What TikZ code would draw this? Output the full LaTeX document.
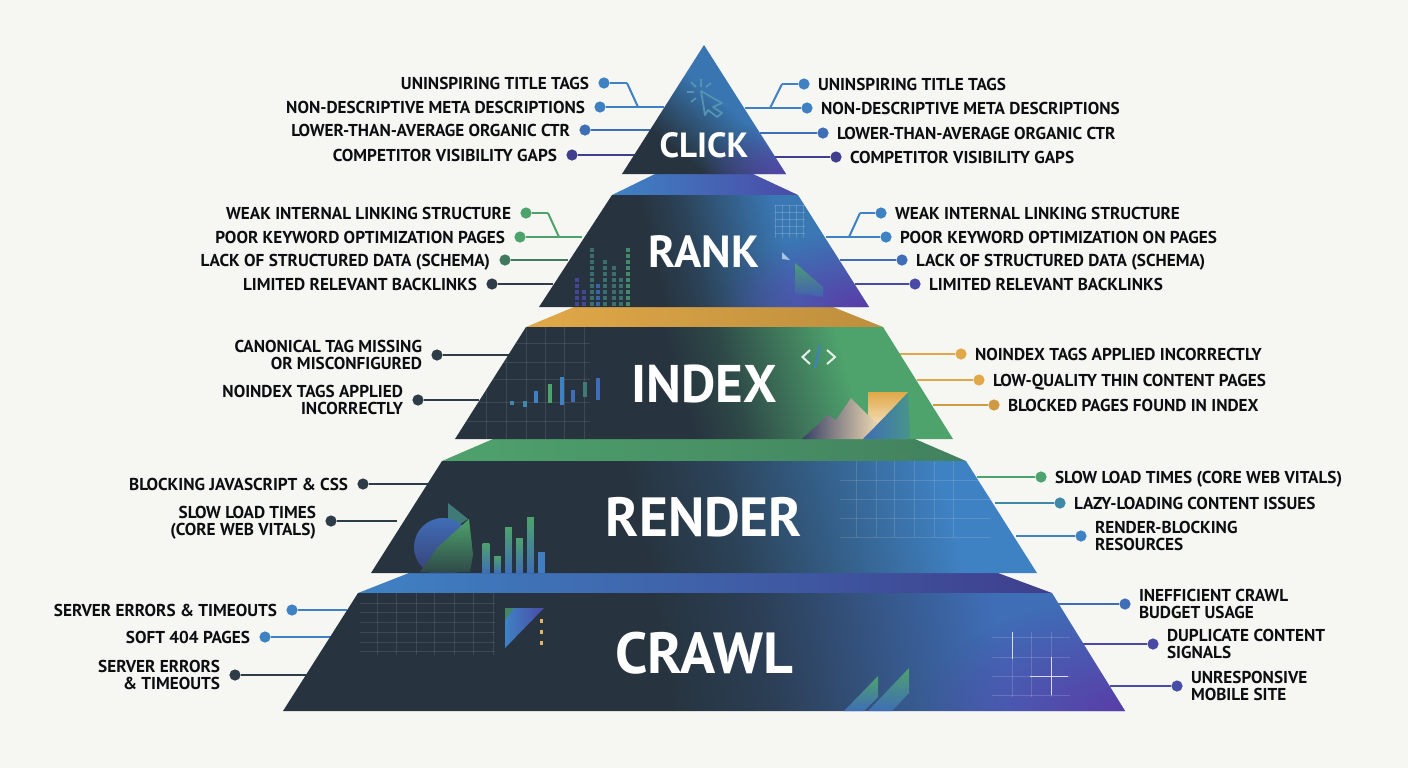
\documentclass[tikz,border=0pt]{standalone}
\usepackage{fontspec}
\setmainfont{PT Sans}
\usetikzlibrary{positioning,calc,fadings}
\definecolor{paperc}{HTML}{F6F6F3}
\definecolor{darkc}{HTML}{27343F}
\definecolor{inkc}{HTML}{0C0E11}
\definecolor{bluec}{HTML}{3F82C4}
\definecolor{midbc}{HTML}{3F6DB6}
\definecolor{indc}{HTML}{4A4AA6}
\definecolor{pplc}{HTML}{5A3DA8}
\definecolor{greenc}{HTML}{4EA26C}
\definecolor{tealc}{HTML}{3F7A78}
\definecolor{teabc}{HTML}{3F88A8}
\definecolor{goldc}{HTML}{E0A848}
\definecolor{slatec}{HTML}{2E3C48}
\pgfdeclarehorizontalshading{clickfront}{100bp}{color(0bp)=(darkc); color(33bp)=(darkc); color(56bp)=(bluec!90!black); color(100bp)=(bluec!90!black)}
\pgfdeclarehorizontalshading{rankfront}{100bp}{color(0bp)=(darkc); color(41bp)=(darkc); color(48bp)=(bluec!18!darkc); color(64bp)=(bluec!92!black); color(100bp)=(bluec!92!black)}
\pgfdeclarehorizontalshading{indexfront}{100bp}{color(0bp)=(darkc); color(47bp)=(darkc); color(53bp)=(greenc!18!darkc); color(67bp)=(greenc); color(100bp)=(greenc)}
\pgfdeclarehorizontalshading{renderfront}{100bp}{color(0bp)=(darkc); color(44bp)=(darkc); color(52bp)=(bluec!18!darkc); color(72bp)=(bluec); color(100bp)=(bluec)}
\pgfdeclarehorizontalshading{crawlfront}{100bp}{color(0bp)=(darkc); color(47bp)=(darkc); color(54bp)=(midbc!18!darkc); color(70bp)=(midbc); color(100bp)=(midbc)}
\tikzfading[name=glow,inner color=transparent!0,outer color=transparent!100]
\tikzset{
    dot/.style = {circle,inner sep=0pt,minimum size=5.6pt},
    lead/.style = {line width=1pt},
    lab/.style = {font=\bfseries\fontsize{8.6}{8.4}\selectfont,text=inkc,inner sep=0pt,text depth=0pt},
    labl/.style = {lab,align=right},
    labr/.style = {lab,align=left},
    tier/.style = {text=white,inner sep=0pt,text depth=0pt},
    gridline/.style = {line width=.4pt}
}
\begin{document}
\begin{tikzpicture}[x=.5pt,y=-.5pt]
    \useasboundingbox[fill=paperc] (0,0) rectangle (1408,768);
    % leaders, left side
    \foreach \nm/\dx/\dy/\ex/\col/\txt in {
        cl1/604/83/627/bluec/{UNINSPIRING TITLE TAGS},
        cl2/600/107/664/bluec!90!midbc/{NON-DESCRIPTIVE META DESCRIPTIONS},
        cl3/585/130/650/midbc/{LOWER-THAN-AVERAGE ORGANIC CTR},
        cl4/572/155/638/indc!85!black/{COMPETITOR VISIBILITY GAPS},
        rk1/526/213/548/greenc/{WEAK INTERNAL LINKING STRUCTURE},
        rk2/520/237/582/greenc/{POOR KEYWORD OPTIMIZATION PAGES},
        rk3/505/260/568/greenc!60!slatec/{LACK OF STRUCTURED DATA (SCHEMA)},
        rk4/492/284/553/slatec/{LIMITED RELEVANT BACKLINKS},
        ix1/437/355/509/slatec/{CANONICAL TAG MISSING\\OR MISCONFIGURED},
        ix2/418/400/479/slatec/{NOINDEX TAGS APPLIED\\INCORRECTLY},
        rd1/363/484/428/slatec/{BLOCKING JAVASCRIPT \& CSS},
        rd2/331/521/397/slatec/{SLOW LOAD TIMES\\(CORE WEB VITALS)},
        cw1/292/610/347/bluec/{SERVER ERRORS \& TIMEOUTS},
        cw2/265/637/332/bluec/{SOFT 404 PAGES},
        cw3/235/675/306/slatec/{SERVER ERRORS\\\& TIMEOUTS}}{
        \node[dot,fill=\col] (\nm) at (\dx,\dy) {};
        \node[labl,left=4.3pt of \nm] (\nm t) {\txt};
        \coordinate (\nm e) at (\ex,\dy);
        \draw[lead,draw=\col] (\nm) -- (\nm e);
    }
    % leaders, right side
    \foreach \nm/\dx/\dy/\ex/\col/\txt in {
        cr1/804/84/782/bluec/{UNINSPIRING TITLE TAGS},
        cr2/807/108/745/bluec!90!midbc/{NON-DESCRIPTIVE META DESCRIPTIONS},
        cr3/823/133/760/midbc/{LOWER-THAN-AVERAGE ORGANIC CTR},
        cr4/836/157/775/indc!85!black/{COMPETITOR VISIBILITY GAPS},
        rr1/881/213/860/bluec/{WEAK INTERNAL LINKING STRUCTURE},
        rr2/886/237/826/bluec/{POOR KEYWORD OPTIMIZATION ON PAGES},
        rr3/902/260/840/midbc/{LACK OF STRUCTURED DATA (SCHEMA)},
        rr4/915/284/855/indc/{LIMITED RELEVANT BACKLINKS},
        xr1/961/354/899/goldc/{NOINDEX TAGS APPLIED INCORRECTLY},
        xr2/979/380/917/goldc/{LOW-QUALITY THIN CONTENT PAGES},
        xr3/994/405/933/goldc!92!black/{BLOCKED PAGES FOUND IN INDEX},
        dr1/1041/477/977/greenc/{SLOW LOAD TIMES (CORE WEB VITALS)},
        dr2/1060/503/995/teabc/{LAZY-LOADING CONTENT ISSUES},
        dr3/1081/536/1016/bluec/{RENDER-BLOCKING\\RESOURCES},
        wr1/1125/604/1057/midbc/{INEFFICIENT CRAWL\\BUDGET USAGE},
        wr2/1153/644/1083/indc/{DUPLICATE CONTENT\\SIGNALS},
        wr3/1177/686/1110/indc!90!midbc/{UNRESPONSIVE\\MOBILE SITE}}{
        \node[dot,fill=\col] (\nm) at (\dx,\dy) {};
        \node[labr,right=3.8pt of \nm] (\nm t) {\txt};
        \coordinate (\nm e) at (\ex,\dy);
        \draw[lead,draw=\col] (\nm) -- (\nm e);
    }
    % the four elbows
    \coordinate (cl1k) at (638,107);
    \coordinate (cr1k) at (770,108);
    \coordinate (rk1k) at (559,237);
    \coordinate (rr1k) at (849,237);
    \draw[lead,draw=bluec] (cl1e) -- (cl1k);
    \draw[lead,draw=bluec] (cr1e) -- (cr1k);
    \draw[lead,draw=greenc] (rk1e) -- (rk1k);
    \draw[lead,draw=bluec] (rr1e) -- (rr1k);

    % pyramid, top bands
    \shade[left color=bluec,right color=indc] (655,174) -- (753,174) -- (798,195) -- (612,195) -- cycle;
    \shade[left color=goldc,right color=goldc!85!black] (574,307) -- (833,307) -- (883,327) -- (526,327) -- cycle;
    \shade[left color=greenc,right color=greenc!70!darkc] (493,439) -- (915,439) -- (966,461) -- (442,461) -- cycle;
    \shade[shading=axis,left color=bluec,middle color=midbc,right color=indc!85!black] (409,573) -- (998,573) -- (1052,593) -- (358,593) -- cycle;

    % CLICK
    \shade[shading=clickfront,shading angle=50] (704,45) -- (786,174) -- (622,174) -- cycle;
    \begin{scope}
        \clip (704,45) -- (786,174) -- (622,174) -- cycle;
        \fill[pplc,opacity=.8,path fading=glow] (700,120) rectangle (870,228);
    \end{scope}
    \draw[teabc!90!white,line width=.9pt,line join=round] (701,91) -- (722,103) -- (713,107) -- (722,113) -- (717,117) -- (708,110) -- (705,115) -- cycle;
    \draw[teabc!90!white,line width=.9pt] (701,79) -- (701,87) (691,82) -- (696,87) (687,92) -- (694,92) (691,102) -- (696,98) (711,83) -- (706,87);

    % RANK
    \shade[shading=rankfront,shading angle=14] (612,195) -- (798,195) -- (869,307) -- (539,307) -- cycle;
    \begin{scope}
        \clip (612,195) -- (798,195) -- (869,307) -- (539,307) -- cycle;
        \fill[pplc,path fading=glow] (720,230) rectangle (1000,384);
        \foreach \x in {775,782,...,805} \draw[gridline,white,opacity=.18] (\x,205) -- (\x,238);
        \foreach \y in {205,212,...,238} \draw[gridline,white,opacity=.18] (775,\y) -- (805,\y);
        \foreach \x/\ty/\col in {577/277/indc,584/292/indc,592/250/tealc,598/282/midbc,605/260/tealc,614/268/tealc,621/277/tealc,628/250/greenc!80!tealc}
            \foreach \y in {304,298,...,\ty} \fill[\col,opacity=.85] (\x-1.6,\y-1.6) rectangle (\x+1.6,\y+1.6);
    \end{scope}
    \fill[bluec!45!white] (782,252) -- (790,260) -- (782,259) -- cycle;
    \shade[top color=greenc!80!teabc,bottom color=midbc!60!indc] (795,263) -- (823,287) -- (823,297) -- (795,293) -- cycle;

    % INDEX
    \shade[shading=indexfront,shading angle=16] (526,327) -- (883,327) -- (953,439) -- (455,439) -- cycle;
    \begin{scope}
        \clip (526,327) -- (883,327) -- (953,439) -- (455,439) -- cycle;
        \foreach \x in {486,506,526,545,564,584} \draw[gridline,white,opacity=.1] (\x,327) -- (\x,439);
        \foreach \y in {343,362,379,402,421} \draw[gridline,white,opacity=.1] (455,\y) -- (590,\y);
        \foreach \x/\ya/\yb/\col in {512/401/405/teabc,525/401/407/teabc,536/391/403/bluec,550/384/403/greenc,562/377/405/bluec,573/390/402/midbc,585/382/397/tealc,598/378/400/midbc}
            \fill[\col] (\x-2,\ya) rectangle (\x+2,\yb);
    \end{scope}
    \draw[white!85!greenc,line width=1pt] (810,350) -- (802.5,357) -- (810,364) (827,350) -- (835,357) -- (827,364);
    \draw[bluec,line width=1pt] (820,345) -- (815,368);
    \shade[left color=slatec!70!indc,right color=goldc!40!white] (802,439) -- (828,415) -- (836,420) -- (851,398) -- (868,415) -- (880,425) -- (863,439) -- cycle;
    \shade[top color=goldc,bottom color=goldc!40!white] (868,392) -- (908,392) -- (878,424) -- (868,415) -- cycle;
    \shade[left color=midbc,right color=greenc!50!teabc] (863,439) -- (908,393) -- (910,439) -- cycle;

    % RENDER
    \shade[shading=renderfront,shading angle=15] (442,461) -- (966,461) -- (1037,573) -- (371,573) -- cycle;
    \begin{scope}
        \clip (442,461) -- (966,461) -- (1037,573) -- (371,573) -- cycle;
        \foreach \x in {856,876,894,914,934,953} \draw[gridline,white,opacity=.13] (\x,461) -- (\x,537);
        \foreach \y in {480,499,518,537} \draw[gridline,white,opacity=.13] (840,\y) -- (990,\y);
        \fill[tealc] (448,503) -- (468,519) -- (448,532) -- cycle;
        \shade[top color=midbc,bottom color=indc!50!darkc] (443,547) circle[radius=29];
        \shade[top color=greenc,bottom color=darkc!80!greenc] (469,519) -- (438,547) -- (420,572) -- (470,572) -- (473,555) -- cycle;
        \foreach \x/\ty in {486/543,497.5/556,508.5/527,519.5/538,530.5/517}
            \shade[top color=greenc,bottom color=midbc] (\x-3.3,\ty) rectangle (\x+3.3,573);
        \fill[bluec!80!midbc] (538.2,552) rectangle (544.8,573);
    \end{scope}

    % CRAWL
    \shade[shading=crawlfront,shading angle=10] (358,593) -- (1052,593) -- (1125,711) -- (283,711) -- cycle;
    \begin{scope}
        \clip (358,593) -- (1052,593) -- (1125,711) -- (283,711) -- cycle;
        \fill[pplc,path fading=glow] (920,600) rectangle (1330,822);
        \foreach \x in {377,396,416,434,454,473,493} \draw[gridline,white,opacity=.1] (\x,593) -- (\x,655);
        \foreach \y in {603,612,622,632,642,651} \draw[gridline,white,opacity=.1] (360,\y) -- (495,\y);
        \foreach \x in {1012,1031,1051} \draw[gridline,white,opacity=.16] (\x,632) -- (\x,697);
        \foreach \y in {637,657,676,695} \draw[gridline,white,opacity=.16] (992,\y) -- (1070,\y);
    \end{scope}
    \draw[white,line width=.5pt,opacity=.75] (1012,632) -- (1012,659) (1051,657) -- (1051,695) (1030,676) -- (1068,676);
    \shade[left color=bluec,right color=indc] (505,608) -- (544,608) -- (505,648) -- cycle;
    \fill[greenc!75!darkc] (505,608) -- (514,608) -- (505,620) -- cycle;
    \foreach \y in {621,632,643} \fill[goldc!85!white] (540.2,\y-2) rectangle (543.2,\y+2);
    \shade[top color=greenc,bottom color=midbc] (844,711) -- (878,676) -- (878,697) -- (864,711) -- cycle;
    \shade[top color=greenc,bottom color=midbc] (868,711) -- (909,668) -- (909,693) -- (892,711) -- cycle;

    % tier names
    \node[tier,font=\bfseries\fontsize{17.5}{18}\selectfont] (click) at (704,145) {CLICK};
    \node[tier,font=\bfseries\fontsize{22.5}{23}\selectfont] (rank) at (704,252) {RANK};
    \node[tier,font=\bfseries\fontsize{26.5}{27}\selectfont] (index) at (704,384) {INDEX};
    \node[tier,font=\bfseries\fontsize{27.6}{28}\selectfont] (render) at (704,517) {RENDER};
    \node[tier,font=\bfseries\fontsize{29}{29}\selectfont] (crawl) at (704,653) {CRAWL};
\end{tikzpicture}
\end{document}
